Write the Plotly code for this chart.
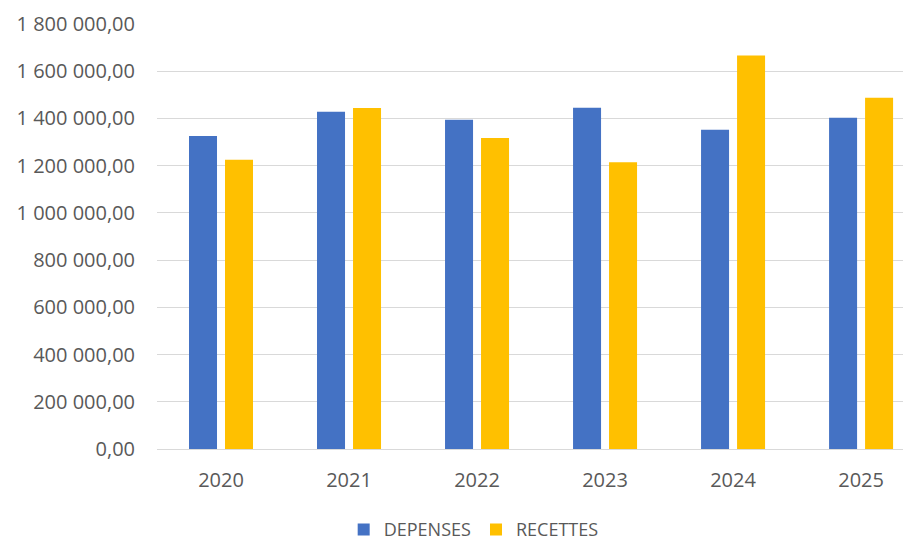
import plotly.graph_objects as go

# Data
annees = ["2020", "2021", "2022", "2023", "2024", "2025"]
depenses = [1326000, 1428000, 1394000, 1445000, 1352000, 1403000]
recettes = [1225000, 1444000, 1317000, 1215000, 1667000, 1488000]
y_ticks = [0, 200000, 400000, 600000, 800000, 1000000, 1200000, 1400000, 1600000, 1800000]

police = dict(family="Open Sans", size=20, color="#595959")
police_leg = dict(family="Open Sans", size=18, color="#595959")

fig = go.Figure()
fig.add_trace(go.Bar(x=annees, y=depenses, name="DEPENSES",
                     marker=dict(color="#4472C4", line=dict(width=0))))
fig.add_trace(go.Bar(x=annees, y=recettes, name="RECETTES",
                     marker=dict(color="#FFC000", line=dict(width=0))))

# the page body adds an 8px margin, so the figure is 8px smaller
fig.update_layout(
    width=903, height=532,
    margin=dict(l=149, r=0, t=16, b=91, autoexpand=False),
    paper_bgcolor="white", plot_bgcolor="white",
    separators=", ",
    barmode="group", bargap=0.4375, bargroupgap=0.222,
    font=police,
    showlegend=True,
    legend=dict(orientation="h", x=0.42, xanchor="center", y=-0.19, yanchor="middle",
                font=police_leg, itemwidth=30, traceorder="normal"),
)
fig.update_xaxes(range=[-0.5, 5.39], showgrid=False, showline=True, linecolor="#d9d9d9",
                 linewidth=1, ticks="", tickfont=police, ticklabelstandoff=13,
                 automargin=False)
fig.update_yaxes(range=[0, 1800000], tickvals=y_ticks, tickformat=",.2f",
                 showgrid=True, gridcolor="#d9d9d9", gridwidth=1, zeroline=False,
                 showline=False, ticks="", tickfont=police, ticklabelstandoff=21,
                 automargin=False)

fig.write_html("out.html")
